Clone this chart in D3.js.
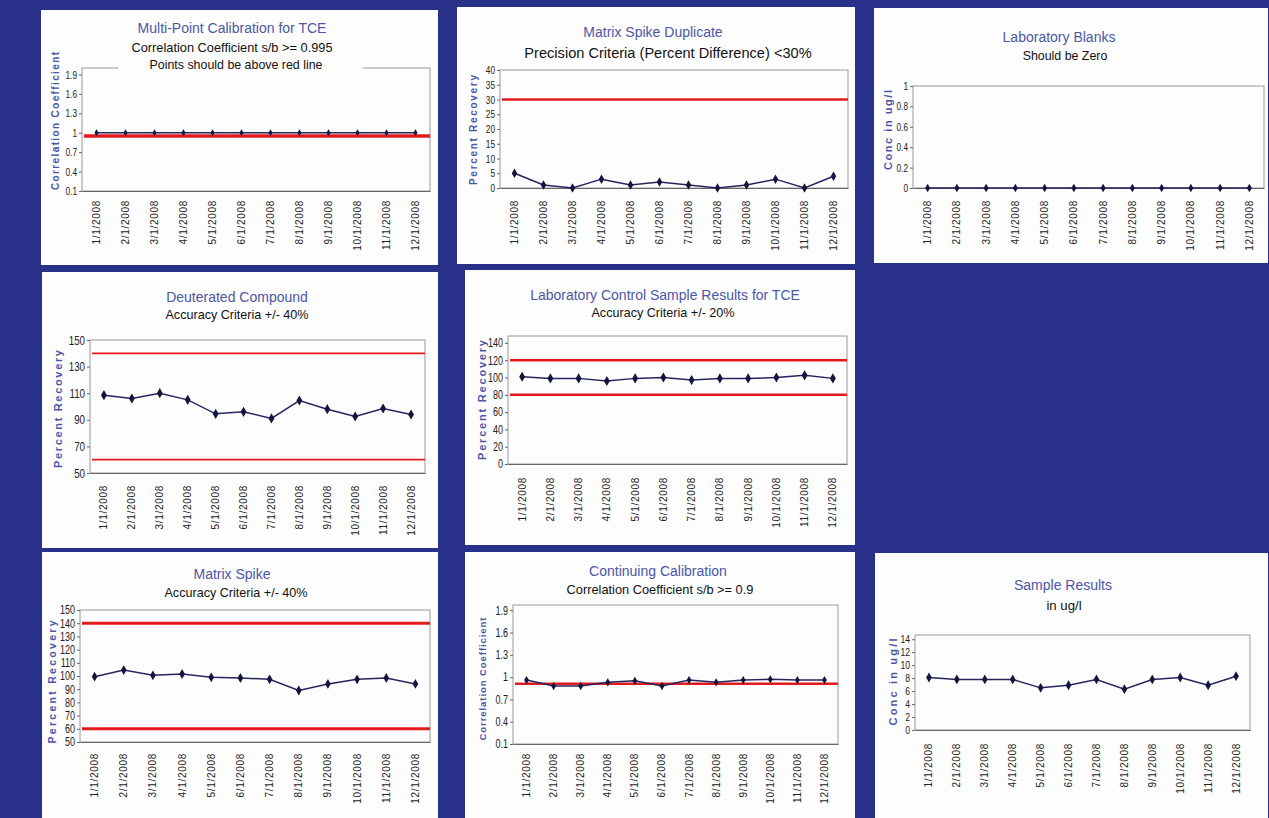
<!DOCTYPE html>
<html>
<head>
<meta charset="utf-8">
<title>TCE QA/QC charts</title>
<script src="https://d3js.org/d3.v7.min.js"></script>
<style>
  body { margin: 0; background: #29308a; }
  svg { display: block; }
  .ttl { fill: #4b57a6; font-family: "Liberation Sans", Arial, sans-serif; text-anchor: middle; }
  .sub { fill: #111; font-family: "Liberation Sans", Arial, sans-serif; text-anchor: middle; }
  .ytl { fill: #4b57a6; font-family: "Liberation Sans", Arial, sans-serif; font-weight: bold; text-anchor: middle; }
</style>
</head>
<body>
<svg id="chart" width="1269" height="818"></svg>
<script>
// category axis
var dates = ["1/1/2008","2/1/2008","3/1/2008","4/1/2008","5/1/2008","6/1/2008",
             "7/1/2008","8/1/2008","9/1/2008","10/1/2008","11/1/2008","12/1/2008"];

// series
var calibration     = [1, 1, 1, 1, 1, 1, 1, 1, 1, 1, 1, 1];
var dupDifference   = [5, 1, 0, 3, 1, 2, 1, 0, 1, 3, 0, 4];
var blanks          = [0, 0, 0, 0, 0, 0, 0, 0, 0, 0, 0, 0];
var deuterated      = [108.5, 106, 110, 105, 94.5, 96, 91, 104.5, 98, 92.5, 98.5, 94];
var lcsRecovery     = [101, 99, 99, 96, 99, 100, 97, 99, 99, 100, 102.5, 99];
var spikeRecovery   = [99.5, 104.5, 100.5, 101.5, 99, 98.5, 97.5, 89, 94, 97.5, 98.5, 94];
var contCalibration = [0.96, 0.88, 0.88, 0.93, 0.95, 0.88, 0.96, 0.93, 0.96, 0.97, 0.96, 0.96];
var sampleConc      = [8.1, 7.8, 7.8, 7.8, 6.5, 6.9, 7.8, 6.3, 7.8, 8.1, 6.9, 8.3];

// red control lines
var calLimit    = [0.95];
var dupLimit    = [30];
var deutLimits  = [140, 60];
var lcsLimits   = [120, 80];
var spikeLimits = [140, 60];
var contLimit   = [0.91];

// y tick labels
var coefTicks  = [0.1, 0.4, 0.7, 1, 1.3, 1.6, 1.9];
var dupTicks   = [0, 5, 10, 15, 20, 25, 30, 35, 40];
var blankTicks = [0, 0.2, 0.4, 0.6, 0.8, 1];
var deutTicks  = [50, 70, 90, 110, 130, 150];
var lcsTicks   = [0, 20, 40, 60, 80, 100, 120, 140];
var spikeTicks = [50, 60, 70, 80, 90, 100, 110, 120, 130, 140, 150];
var concTicks  = [0, 2, 4, 6, 8, 10, 12, 14];

// y ranges
var coefDomain  = [0.1, 2.0];
var dupDomain   = [0, 40];
var blankDomain = [0, 1];
var deutDomain  = [50, 150];
var lcsDomain   = [0, 148];
var spikeDomain = [50, 150];
var coef2Domain = [0.1, 1.97];
var concDomain  = [0, 14.65];

var svg = d3.select("#chart");

svg.append("rect")
    .attr("width", 1269)
    .attr("height", 818)
    .attr("fill", "#29308a");

// tick numbers in the original are a tall narrow face; squeeze them
var squeeze = 0.75;

var panels = [
  { title: "Multi-Point Calibration for TCE",
    subs: ["Correlation Coefficient s/b >= 0.995", "Points should be above red line"],
    yTitle: "Correlation Coefficient",
    values: calibration, limits: calLimit, ticks: coefTicks, domain: coefDomain,
    box: [41, 10, 438, 265], plot: [82, 68, 430, 191],
    t: [232, 28, 14], s: [[232, 48, 12.8], [236, 65, 12.4]], subBg: [118, 363],
    yt: [55, 121, 138, 10], tickFont: 11, xGap: 9, red: 3.5, mark: 14 },
  { title: "Matrix Spike Duplicate",
    subs: ["Precision Criteria  (Percent Difference) <30%"],
    yTitle: "Percent Recovery",
    values: dupDifference, limits: dupLimit, ticks: dupTicks, domain: dupDomain,
    box: [457, 7, 855, 264], plot: [500, 70, 848, 188],
    t: [653, 32, 14], s: [[668, 53, 14.6]],
    yt: [473, 130, 110, 10], tickFont: 11, xGap: 12, red: 2.5, mark: 26 },
  { title: "Laboratory Blanks",
    subs: ["Should be Zero"],
    yTitle: "Conc in ug/l",
    values: blanks, limits: [], ticks: blankTicks, domain: blankDomain,
    box: [874, 8, 1268, 263], plot: [913, 86, 1264, 188],
    t: [1059, 37, 14], s: [[1065, 56, 12.4]],
    yt: [888, 130, 80, 11], tickFont: 11, xGap: 12, red: 0, mark: 22 },
  { title: "Deuterated Compound",
    subs: ["Accuracy Criteria +/- 40%"],
    yTitle: "Percent Recovery",
    values: deuterated, limits: deutLimits, ticks: deutTicks, domain: deutDomain,
    box: [42, 272, 438, 548], plot: [90, 340, 425, 473],
    t: [237, 297, 14], s: [[237, 315, 12.6]],
    yt: [58, 409, 118, 11], tickFont: 13, xGap: 12, red: 1.8, mark: 30 },
  { title: "Laboratory Control Sample Results for TCE",
    subs: ["Accuracy Criteria +/- 20%"],
    yTitle: "Percent Recovery",
    values: lcsRecovery, limits: lcsLimits, ticks: lcsTicks, domain: lcsDomain,
    box: [465, 270, 855, 545], plot: [508, 336, 847, 464],
    t: [665, 295, 14], s: [[663, 313, 12.6]],
    yt: [482, 400, 120, 11], tickFont: 12, xGap: 13, red: 2.5, mark: 30 },
  { title: "Matrix Spike",
    subs: ["Accuracy Criteria +/- 40%"],
    yTitle: "Percent Recovery",
    values: spikeRecovery, limits: spikeLimits, ticks: spikeTicks, domain: spikeDomain,
    box: [42, 552, 438, 818], plot: [80, 610, 430, 742],
    t: [232, 574, 14], s: [[236, 593, 12.6]],
    yt: [52, 682, 123, 10.5], tickFont: 12, xGap: 11, red: 3, mark: 28 },
  { title: "Continuing Calibration",
    subs: ["Correlation Coefficient s/b >= 0.9"],
    yTitle: "Correlation Coefficient",
    values: contCalibration, limits: contLimit, ticks: coefTicks, domain: coef2Domain,
    box: [465, 552, 855, 818], plot: [513, 605, 838, 744],
    t: [658, 571, 14], s: [[660, 590, 12.8]],
    yt: [483, 679, 123, 9.5], tickFont: 12, xGap: 9, red: 2.5, mark: 20 },
  { title: "Sample Results",
    subs: ["in ug/l"],
    yTitle: "Conc in ug/l",
    values: sampleConc, limits: [], ticks: concTicks, domain: concDomain,
    box: [875, 553, 1268, 818], plot: [915, 635, 1250, 730],
    t: [1063, 585, 14], s: [[1064, 605, 13.2]],
    yt: [893, 682, 87, 11], tickFont: 11.5, xGap: 13, red: 0, mark: 28 }
];

panels.forEach(drawPanel);

function drawPanel(p) {
    var g = svg.append("g");
    var px0 = p.plot[0], py0 = p.plot[1], px1 = p.plot[2], py1 = p.plot[3];

    // white card
    g.append("rect")
        .attr("x", p.box[0]).attr("y", p.box[1])
        .attr("width", p.box[2] - p.box[0])
        .attr("height", p.box[3] - p.box[1])
        .attr("fill", "#fdfdfd");

    var x = d3.scaleBand().domain(dates).range([px0, px1]);
    var y = d3.scaleLinear().domain(p.domain).range([py1, py0]);

    // plot frame
    g.append("rect")
        .attr("x", px0).attr("y", py0)
        .attr("width", px1 - px0).attr("height", py1 - py0)
        .attr("fill", "none")
        .attr("stroke", "#9a9a9a");

    if (p.subBg) {
        g.append("rect")
            .attr("x", p.subBg[0]).attr("y", py0 - 6)
            .attr("width", p.subBg[1] - p.subBg[0]).attr("height", 10)
            .attr("fill", "#fdfdfd");
    }

    // control limits
    g.selectAll("line.limit")
        .data(p.limits)
        .join("line")
        .attr("class", "limit")
        .attr("x1", px0 + 2).attr("x2", px1)
        .attr("y1", function(d) { return y(d); })
        .attr("y2", function(d) { return y(d); })
        .attr("stroke", "#e3191c")
        .attr("stroke-width", p.red);

    // axes
    var ya = g.append("g")
        .attr("transform", "translate(" + px0 + ",0)")
        .call(d3.axisLeft(y).tickValues(p.ticks).tickSize(3).tickPadding(2)
              .tickFormat(function(d) { return d; }));
    ya.select(".domain").remove();
    ya.selectAll("line").attr("stroke", "#666");
    ya.selectAll("text")
        .attr("fill", "#222")
        .attr("x", -5 / squeeze)
        .attr("transform", "scale(" + squeeze + ",1)")
        .style("font-family", '"Liberation Sans", Arial, sans-serif')
        .style("font-size", p.tickFont + "px");

    var xa = g.append("g")
        .attr("transform", "translate(0," + py1 + ")")
        .call(d3.axisBottom(x).tickSize(0));
    xa.select(".domain").attr("stroke", "#666");
    xa.selectAll("text")
        .attr("transform", "rotate(-90)")
        .attr("x", -p.xGap)
        .attr("y", 0)
        .attr("dy", "0.35em")
        .attr("fill", "#222")
        .style("text-anchor", "end")
        .style("font-family", '"Liberation Sans", Arial, sans-serif')
        .style("font-size", "10px")
        .style("letter-spacing", "0.7px");

    // series line + diamonds
    var cx = function(d, i) { return x(dates[i]) + x.bandwidth() / 2; };
    var line = d3.line().x(cx).y(function(d) { return y(d); });

    g.append("path")
        .datum(p.values)
        .attr("d", line)
        .attr("fill", "none")
        .attr("stroke", "#25255e")
        .attr("stroke-width", 1.5);

    g.selectAll("path.pt")
        .data(p.values)
        .join("path")
        .attr("class", "pt")
        .attr("transform", function(d, i) { return "translate(" + cx(d, i) + "," + y(d) + ")"; })
        .attr("d", d3.symbol(d3.symbolDiamond, p.mark)())
        .attr("fill", "#14143f");

    // titles
    g.append("text").attr("class", "ttl")
        .attr("x", p.t[0]).attr("y", p.t[1]).attr("dy", "0.35em")
        .style("font-size", p.t[2] + "px")
        .text(p.title);

    p.subs.forEach(function(s, i) {
        g.append("text").attr("class", "sub")
            .attr("x", p.s[i][0]).attr("y", p.s[i][1]).attr("dy", "0.35em")
            .style("font-size", p.s[i][2] + "px")
            .text(s);
    });

    g.append("text").attr("class", "ytl")
        .attr("transform", "translate(" + p.yt[0] + "," + p.yt[1] + ") rotate(-90)")
        .attr("dy", "0.35em")
        .attr("textLength", p.yt[2])
        .attr("lengthAdjust", "spacing")
        .style("font-size", p.yt[3] + "px")
        .text(p.yTitle);
}
</script>
</body>
</html>
